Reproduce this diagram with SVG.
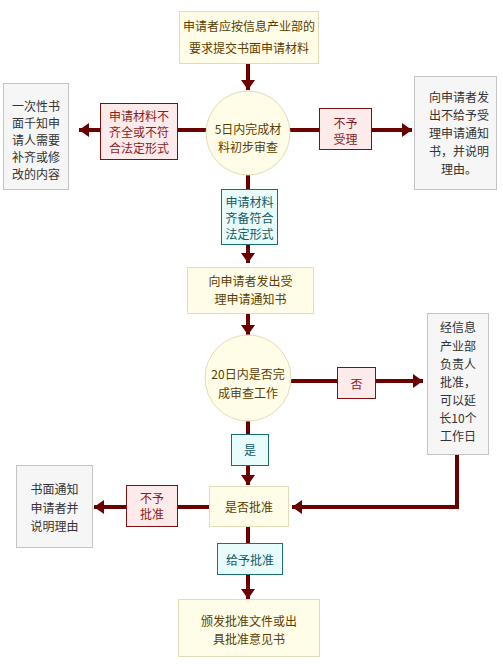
<svg xmlns="http://www.w3.org/2000/svg" width="503" height="664" viewBox="0 0 503 664">
<style>
text{font-family:"Noto Sans CJK SC","Noto Sans",sans-serif;font-size:12px;text-anchor:middle;dominant-baseline:central}
.beige{fill:#fffde8;stroke:#e2dcb8;stroke-width:1}
.grey{fill:#f6f6f6;stroke:#c4c4c4;stroke-width:1}
.red{fill:#fdeaea;stroke:#7a1010;stroke-width:1}
.teal{fill:#e9fcfc;stroke:#1a7070;stroke-width:1}
.tb{fill:#5a3c00}
.tg{fill:#333}
.tr{fill:#8a1c1c}
.tt{fill:#115a66}
.c{fill:none;stroke:#6a0000;stroke-width:4}
</style>
<defs>
<marker id="ah" markerUnits="userSpaceOnUse" markerWidth="12" markerHeight="14" refX="10" refY="7" orient="auto">
<path d="M0,0 L10,7 L0,14 Z" fill="#6a0000"/>
</marker>
</defs>
<rect width="503" height="664" fill="#fff"/>
<g id="connectors">
<line class="c" x1="248" y1="63" x2="248" y2="90" marker-end="url(#ah)"/>
<line class="c" x1="206" y1="130" x2="79" y2="130" marker-end="url(#ah)"/>
<line class="c" x1="290" y1="130" x2="412" y2="130" marker-end="url(#ah)"/>
<line class="c" x1="248" y1="174" x2="248" y2="263" marker-end="url(#ah)"/>
<line class="c" x1="248" y1="313" x2="248" y2="335" marker-end="url(#ah)"/>
<line class="c" x1="291" y1="381" x2="423" y2="381" marker-end="url(#ah)"/>
<line class="c" x1="248" y1="421" x2="248" y2="485" marker-end="url(#ah)"/>
<polyline class="c" points="457,454 457,507 292,507" marker-end="url(#ah)"/>
<line class="c" x1="209" y1="507" x2="94" y2="507" marker-end="url(#ah)"/>
<line class="c" x1="248" y1="526" x2="248" y2="599" marker-end="url(#ah)"/>
</g>
<g id="n1"><rect class="beige" x="179.5" y="11.5" width="139" height="52"/>
<text class="tb" x="249" y="25">申请者应按信息产业部的</text><text class="tb" x="249" y="47">要求提交书面申请材料</text></g>
<g id="n2"><circle class="beige" cx="248" cy="133" r="42"/>
<text class="tb" x="248" y="128">5日内完成材</text><text class="tb" x="248" y="146">料初步审查</text></g>
<g id="n3"><rect class="red" x="100.5" y="103.5" width="77" height="56"/>
<text class="tr" x="139" y="115">申请材料不</text><text class="tr" x="139" y="131">齐全或不符</text><text class="tr" x="139" y="147">合法定形式</text></g>
<g id="n4"><rect class="grey" x="3.5" y="83.5" width="65" height="106"/>
<text class="tg" x="36" y="105">一次性书</text><text class="tg" x="36" y="122">面千知申</text><text class="tg" x="36" y="139">请人需要</text><text class="tg" x="36" y="156">补齐或修</text><text class="tg" x="36" y="173">改的内容</text></g>
<g id="n5"><rect class="red" x="319.5" y="108.5" width="52" height="41"/>
<text class="tr" x="345.5" y="122">不予</text><text class="tr" x="345.5" y="138">受理</text></g>
<g id="n6"><rect class="grey" x="414.5" y="76.5" width="82" height="113"/>
<text class="tg" x="459" y="96">向申请者发</text><text class="tg" x="459" y="114">出不给予受</text><text class="tg" x="459" y="132">理申请通知</text><text class="tg" x="459" y="150">书，并说明</text><text class="tg" x="459" y="168">理由。</text></g>
<g id="n7"><rect class="teal" x="221.5" y="189.5" width="56" height="55"/>
<text class="tt" x="249.5" y="201">申请材料</text><text class="tt" x="249.5" y="217">齐备符合</text><text class="tt" x="249.5" y="233">法定形式</text></g>
<g id="n8"><rect class="beige" x="187.5" y="267.5" width="126" height="46"/>
<text class="tb" x="250.5" y="280">向申请者发出受</text><text class="tb" x="250.5" y="298">理申请通知书</text></g>
<g id="n9"><circle class="beige" cx="248" cy="378" r="43"/>
<text class="tb" x="248" y="373">20日内是否完</text><text class="tb" x="248" y="392">成审查工作</text></g>
<g id="n10"><rect class="red" x="337.5" y="367.5" width="38" height="31"/>
<text class="tr" x="356.5" y="383">否</text></g>
<g id="n11"><rect class="grey" x="427.5" y="313.5" width="61" height="141"/>
<text class="tg" x="458" y="326">经信息</text><text class="tg" x="458" y="345">产业部</text><text class="tg" x="458" y="363">负责人</text><text class="tg" x="458" y="381">批准，</text><text class="tg" x="458" y="399">可以延</text><text class="tg" x="458" y="417">长10个</text><text class="tg" x="458" y="435">工作日</text></g>
<g id="n12"><rect class="teal" x="231.5" y="434.5" width="37" height="31"/>
<text class="tt" x="250" y="449">是</text></g>
<g id="n13"><rect class="beige" x="209.5" y="486.5" width="79" height="40"/>
<text class="tb" x="249" y="506">是否批准</text></g>
<g id="n14"><rect class="red" x="126.5" y="485.5" width="51" height="41"/>
<text class="tr" x="152" y="497">不予</text><text class="tr" x="152" y="513">批准</text></g>
<g id="n15"><rect class="grey" x="16.5" y="465.5" width="76" height="82"/>
<text class="tg" x="54.5" y="488">书面通知</text><text class="tg" x="54.5" y="507">申请者并</text><text class="tg" x="54.5" y="525">说明理由</text></g>
<g id="n16"><rect class="teal" x="217.5" y="543.5" width="65" height="31"/>
<text class="tt" x="250" y="559">给予批准</text></g>
<g id="n17"><rect class="beige" x="178.5" y="599.5" width="141" height="57"/>
<text class="tb" x="249" y="620">颁发批准文件或出</text><text class="tb" x="249" y="638">具批准意见书</text></g>
</svg>
